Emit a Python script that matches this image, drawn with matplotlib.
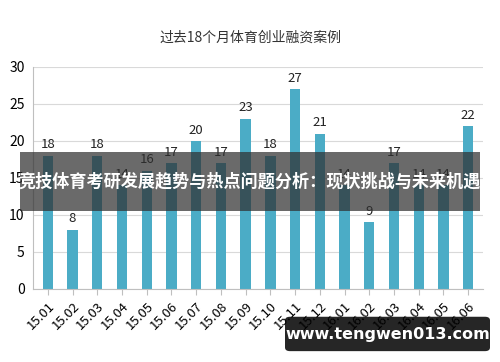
import matplotlib.pyplot as plt
from matplotlib.patches import FancyBboxPatch, Rectangle

plt.rcParams['font.family'] = ['Noto Sans CJK SC', 'DejaVu Sans']

months = ["15.01", "15.02", "15.03", "15.04", "15.05", "15.06", "15.07", "15.08", "15.09",
          "15.10", "15.11", "15.12", "16.01", "16.02", "16.03", "16.04", "16.05", "16.06"]
cases = [18, 8, 18, 14, 16, 17, 20, 17, 23, 18, 27, 21, 14, 9, 17, 14, 14, 22]

title = "过去18个月体育创业融资案例"
banner = "竞技体育考研发展趋势与热点问题分析：现状挑战与未来机遇"
site = "www.tengwen013.com"

fig = plt.figure(figsize=(5, 3.62), dpi=100)
ax = fig.add_axes([0.066, 0.2017, 0.9, 0.6133])

x = range(len(months))
ax.bar(x, cases, width=0.42, color="#4BACC6", zorder=2)
for i, v in zip(x, cases):
    ax.text(i, v + 0.6, str(v), ha="center", va="bottom", fontsize=9.5, color="#222222")

ax.set_ylim(0, 30)
ax.set_xlim(-0.6, len(months) - 0.4)
ax.set_yticks(range(0, 31, 5))
ax.yaxis.grid(True, color="#d9d9d9", linewidth=0.8, zorder=0)
ax.set_xticks(list(x))
ax.set_xticklabels(months, rotation=45, ha="right", rotation_mode="anchor", fontsize=9.5)
ax.tick_params(axis="y", length=0, labelsize=10, pad=6)
ax.tick_params(axis="x", length=4, color="#bfbfbf")
for side in ["top", "right"]:
    ax.spines[side].set_visible(False)
ax.spines["left"].set_color("#bfbfbf")
ax.spines["bottom"].set_color("#bfbfbf")

fig.text(0.5, 0.895, title, ha="center", va="center", fontsize=10, color="#333333")

# dark banner across the middle
fig.patches.append(Rectangle((0.04, 0.417), 0.92, 0.163, transform=fig.transFigure,
                             facecolor="#303030", alpha=0.72, edgecolor="none", zorder=5))
fig.text(0.5, 0.498, banner, ha="center", va="center", fontsize=12.3, fontweight="bold",
         color="white", zorder=6)

# site watermark bottom right
fig.patches.append(FancyBboxPatch((0.57, 0.03), 0.41, 0.095, transform=fig.transFigure,
                                  boxstyle="round,pad=0.0,rounding_size=0.01",
                                  facecolor="black", alpha=0.85, edgecolor="none", zorder=5))
fig.text(0.775, 0.077, site, ha="center", va="center", fontsize=11.5, fontweight="bold",
         color="white", family="DejaVu Sans", zorder=6)

fig.savefig("out.png", dpi=100)
